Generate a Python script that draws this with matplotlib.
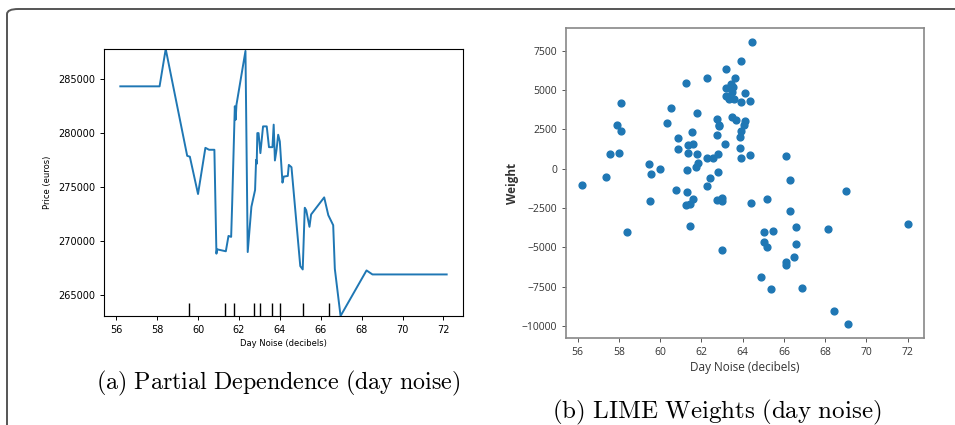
import matplotlib.pyplot as plt
from matplotlib.patches import FancyBboxPatch

plt.rcParams['mathtext.fontset'] = 'cm'

# partial dependence curve (day noise -> predicted price)
pd_noise = [56.2, 58.12, 58.42, 59.47, 59.6, 60.0, 60.36, 60.54, 60.8, 60.9, 60.93,
            61.36, 61.49, 61.62, 61.67, 61.8, 61.84, 61.88, 62.32, 62.43, 62.61,
            62.79, 62.84, 62.87, 62.9, 62.96, 63.05, 63.18, 63.36, 63.47, 63.64,
            63.7, 63.76, 63.84, 63.92, 64.0, 64.13, 64.19, 64.39, 64.44, 64.57,
            65.0, 65.12, 65.22, 65.29, 65.45, 65.53, 66.17, 66.37, 66.61, 66.69,
            66.97, 68.24, 68.53, 72.16]
pd_price = [284300, 284300, 287750, 277880, 277800, 274350, 278620, 278440, 278440,
            268840, 269240, 269060, 270480, 270390, 273480, 282460, 281220, 282600,
            287570, 268990, 273170, 274720, 277510, 277140, 279980, 279980, 278130,
            280600, 280600, 278680, 278680, 280760, 277450, 278440, 279830, 279210,
            275400, 275960, 276020, 277040, 276830, 267690, 267380, 273080, 272860,
            271320, 272460, 274040, 272400, 271470, 267440, 263080, 267290, 266920,
            266920]
deciles = [59.54, 61.31, 61.78, 62.73, 63.04, 63.6, 63.99, 65.13, 66.42]

# LIME weights per sample
lime_noise = [56.23, 57.37, 57.58, 58.0, 57.89, 58.13, 58.13, 58.4, 59.47, 59.58,
              59.53, 59.98, 60.32, 60.53, 60.89, 60.85, 60.77, 61.26, 61.34, 61.34,
              61.29, 61.29, 61.26, 61.44, 61.44, 61.61, 61.53, 61.61, 61.79, 61.79,
              61.76, 61.85, 62.29, 62.29, 62.58, 62.4, 62.29, 62.74, 62.84, 62.87,
              62.77, 62.82, 62.82, 62.77, 63.0, 63.0, 63.0, 63.13, 63.19, 63.19,
              63.19, 63.32, 63.42, 63.53, 63.61, 63.5, 63.56, 63.5, 63.66, 63.92,
              63.92, 64.1, 64.37, 64.13, 64.06, 63.94, 63.89, 63.85, 63.94, 64.35,
              64.47, 64.4, 65.16, 65.05, 65.05, 65.19, 65.45, 64.9, 65.37, 66.1,
              66.29, 66.29, 66.61, 66.61, 66.1, 66.1, 66.5, 66.89, 68.13, 69.0,
              68.45, 69.1, 72.0]
lime_weight = [-1034, -524, 965, 1008, 2774, 2391, 4201, -4039, 283, -313,
               -2037, 0, 2923, 3839, 1923, 1270, -1356, 5435, 1476, 1007,
               -79, -1484, -2314, -2272, -3634, -1953, 2341, 1553, 965, 3563,
               92, 368, 5798, 689, 689, -588, -1099, 3151, 2725, 2810,
               2174, 965, -227, -1994, -1887, -2078, -5144, 1553, 6351, 5138,
               4606, 4436, 5394, 5181, 5756, 4861, 4436, 3265, 3116, 6841,
               4265, 4798, 4329, 3053, 2810, 2406, 2044, 1320, 689, 881,
               8054, -2186, -1953, -4039, -4656, -4954, -3954, -6913, -7680, 794,
               -718, -2677, -3720, -4763, -5934, -6104, -5636, -7595, -3826, -1420,
               -9042, -9873, -3503]

fig = plt.figure(figsize=(9.55, 4.25), dpi=100)

# rounded frame around the whole figure (runs off the right and bottom edges)
W, H = 955, 425
frame = FancyBboxPatch((7 / W, 1 - 480 / H), 1050 / W, 471 / H,
                       boxstyle='round,pad=0,rounding_size=0.012',
                       transform=fig.transFigure, fill=False,
                       edgecolor='#555555', linewidth=1.4, zorder=0)
fig.patches.append(frame)

# (a) partial dependence
ax1 = fig.add_axes([104 / W, 1 - 316 / H, 359 / W, 267 / H])
ax1.plot(pd_noise, pd_price, color='#1f77b4', lw=1.4)
ax1.set_ylim(min(pd_price), max(pd_price))
ax1.vlines(deciles, 0, 0.05, transform=ax1.get_xaxis_transform(), color='k', lw=1)
ax1.set_xticks(range(56, 73, 2))
ax1.set_yticks([265000, 270000, 275000, 280000, 285000])
ax1.tick_params(labelsize=7, length=3, width=0.7)
ax1.set_xlabel('Day Noise (decibels)', fontsize=6, labelpad=3)
ax1.set_ylabel('Price (euros)', fontsize=6, labelpad=4)

# (b) LIME weights
ax2 = fig.add_axes([566 / W, 1 - 338 / H, 358 / W, 310 / H])
ax2.scatter(lime_noise, lime_weight, s=24, color='#1f77b4')
ax2.set_xticks(range(56, 73, 2))
ax2.set_yticks(range(-10000, 7501, 2500))
for sp in ax2.spines.values():
    sp.set_color('#888888')
    sp.set_linewidth(1.2)
ax2.tick_params(labelsize=7.5, length=3, width=0.7, color='#555555', labelcolor='#333333')
for lab in ax2.get_xticklabels() + ax2.get_yticklabels():
    lab.set_fontfamily('Open Sans')
ax2.set_xlabel('Day Noise (decibels)', fontsize=8.5, family='Open Sans',
               color='#333333', labelpad=2)
ax2.set_ylabel('Weight', fontsize=8.5, family='Open Sans', weight='bold',
               color='#333333', labelpad=2)

# captions
fig.text(278 / W, 1 - 383 / H, r'$\mathrm{(a)\ Partial\ Dependence\ (day\ noise)}$',
         ha='center', va='center', fontsize=17.3)
fig.text(717 / W, 1 - 412 / H, r'$\mathrm{(b)\ LIME\ Weights\ (day\ noise)}$',
         ha='center', va='center', fontsize=18)

fig.savefig('out.png', dpi=100)
